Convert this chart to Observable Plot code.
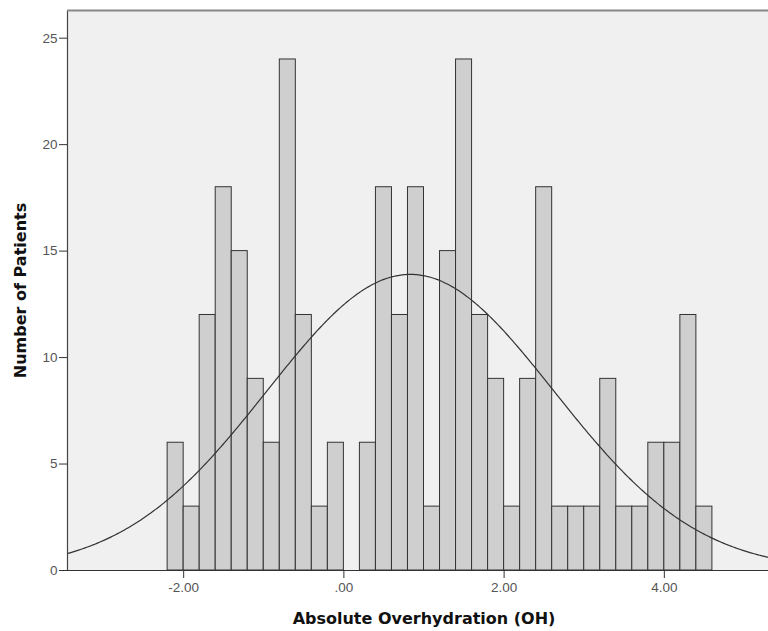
<!DOCTYPE html>
<html>
<head>
<meta charset="utf-8">
<script src="https://cdn.jsdelivr.net/npm/d3@7"></script>
<script src="https://cdn.jsdelivr.net/npm/@observablehq/plot@0.6"></script>
<style>
  html, body { margin: 0; padding: 0; background: #fff; overflow: hidden; }
  #chart { width: 768px; height: 631px; overflow: hidden; }
  #chart svg { max-width: none !important; }
</style>
</head>
<body>
<div id="chart"></div>
<script>
// Histogram bins (left edge, width 0.2) and counts
const binLefts = [-2.2, -2.0, -1.8, -1.6, -1.4, -1.2, -1.0, -0.8, -0.6, -0.4, -0.2,
                  0.0, 0.2, 0.4, 0.6, 0.8, 1.0, 1.2, 1.4, 1.6, 1.8, 2.0, 2.2, 2.4,
                  2.6, 2.8, 3.0, 3.2, 3.4, 3.6, 3.8, 4.0, 4.2, 4.4];
const counts   = [6, 3, 12, 18, 15, 9, 6, 24, 12, 3, 6,
                  0, 6, 18, 12, 18, 3, 15, 24, 12, 9, 3, 9, 18,
                  3, 3, 3, 9, 3, 3, 6, 6, 12, 3];
const binWidth = 0.2;

// Fitted normal curve parameters
const curveMean = 0.83;
const curveSD = 1.79;
const totalN = 312;

// Axis ticks
const xTicks = [-2, 0, 2, 4];
const xTickLabels = ["-2.00", ".00", "2.00", "4.00"];
const yTicks = [0, 5, 10, 15, 20, 25];

const bars = binLefts.map((x, i) => ({x1: x, x2: x + binWidth, y: counts[i]}));

const xDomain = [-3.45, 5.45];
const curve = d3.range(xDomain[0], xDomain[1] + 0.001, 0.02).map(x => ({
  x,
  y: totalN * binWidth / (curveSD * Math.sqrt(2 * Math.PI)) *
     Math.exp(-0.5 * ((x - curveMean) / curveSD) ** 2)
}));

const chart = Plot.plot({
  width: 780,
  height: 631,
  marginLeft: 67,
  marginRight: 0,
  marginTop: 10,
  marginBottom: 61,
  style: {fontFamily: "Liberation Sans, Arial, sans-serif", fontSize: "13.5px", color: "#444", background: "#fff", maxWidth: "none"},
  x: {domain: xDomain, ticks: xTicks, tickFormat: (d) => xTickLabels[xTicks.indexOf(d)], label: null},
  y: {domain: [0, 26.3], ticks: yTicks, label: null},
  marks: [
    Plot.frame({fill: "#f0f0f0", stroke: null}),
    Plot.rectY(bars, {x1: "x1", x2: "x2", y: "y", fill: "#cfcfcf", stroke: "#333", strokeWidth: 1}),
    Plot.line(curve, {x: "x", y: "y", stroke: "#333", strokeWidth: 1.2, curve: "basis"}),
    Plot.axisY({ticks: yTicks, tickSize: 8, tickPadding: 2, stroke: "#333", label: null, fill: "#555"}),
    Plot.axisX({ticks: xTicks, tickFormat: (d) => xTickLabels[xTicks.indexOf(d)], tickSize: 8, tickPadding: 4, stroke: "#333", label: null, fill: "#555"}),
    Plot.ruleY([0], {stroke: "#333", strokeWidth: 1.2}),
    Plot.ruleX([xDomain[0]], {stroke: "#444", strokeWidth: 1.2}),
    Plot.ruleY([26.3], {stroke: "#888", strokeWidth: 2}),
    Plot.text(["Absolute Overhydration (OH)"], {frameAnchor: "bottom", dy: 48, textAnchor: "middle", fontFamily: "DejaVu Sans", fontWeight: "bold", fontSize: 16, fill: "#111", lineAnchor: "middle"}),
    Plot.text(["Number of Patients"], {frameAnchor: "left", dx: -47, rotate: -90, textAnchor: "middle", lineAnchor: "middle", fontFamily: "DejaVu Sans", fontWeight: "bold", fontSize: 16, fill: "#111"})
  ]
});
document.getElementById("chart").appendChild(chart);
</script>
</body>
</html>
